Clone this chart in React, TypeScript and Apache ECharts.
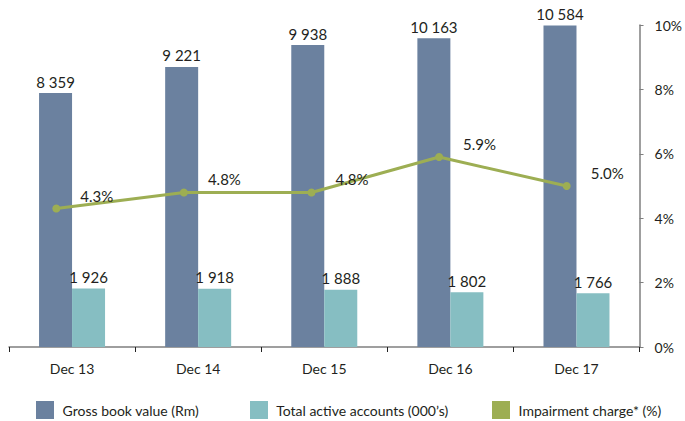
import React, { useEffect, useRef } from "react";
import * as echarts from "echarts";

const categories = ["Dec 13", "Dec 14", "Dec 15", "Dec 16", "Dec 17"];
const grossBookValue = [8359, 9221, 9938, 10163, 10584];
const activeAccounts = [1926, 1918, 1888, 1802, 1766];
const impairmentCharge = [4.3, 4.8, 4.8, 5.9, 5.0];
const percentTicks = { min: 0, max: 10, interval: 2 };

const seriesNames = [
  "Gross book value (Rm)",
  "Total active accounts (000\u2019s)",
  "Impairment charge* (%)",
];

const COLORS = { gross: "#6b819f", accounts: "#86bec2", impairment: "#9dae53" };
const FONT = "Lato";
const TEXT = "#231f20";
const PAD = 24;

const fmtThousands = (v: number) =>
  String(v).replace(/\B(?=(\d{3})+(?!\d))/g, " ");

export default function App() {
  const ref = useRef<HTMLDivElement>(null);

  useEffect(() => {
    if (!ref.current) return;
    const chart = echarts.init(ref.current, null, { renderer: "svg" });
    const barWidth = 33;
    const shift = barWidth / 2;
    const gridLeft = 9 + PAD;
    const gridRight = 38;
    const legendBase = {
      top: 401,
      padding: 0,
      itemWidth: 18,
      itemHeight: 18,
      icon: "rect",
      orient: "horizontal" as const,
      formatter: (name: string) => " " + name,
      textStyle: {
        fontFamily: FONT,
        fontSize: 14,
        color: TEXT,
      },
    };
    chart.setOption({
      animation: false,
      textStyle: { fontFamily: FONT },
      grid: [
        { left: gridLeft, right: gridRight, top: 25, bottom: 74 },
        { left: gridLeft - shift, right: gridRight + shift, top: 25, bottom: 74 },
      ],
      legend: [
        { ...legendBase, left: 36 + PAD, data: [seriesNames[0]] },
        { ...legendBase, left: 250 + PAD, data: [seriesNames[1]] },
        { ...legendBase, left: 492 + PAD, data: [seriesNames[2]] },
      ],
      xAxis: [
        {
          type: "category",
          gridIndex: 0,
          data: categories,
          axisLine: { lineStyle: { color: "#7f7f7f", width: 1.5 } },
          axisTick: { show: true, length: 5, lineStyle: { color: "#222", width: 1 } },
          axisLabel: { fontFamily: FONT, fontSize: 14, color: TEXT, margin: 14 },
        },
        { type: "category", gridIndex: 1, data: categories, show: false },
      ],
      yAxis: [
        { type: "value", gridIndex: 0, min: 0, max: 10600, show: false, splitLine: { show: false } },
        {
          type: "value",
          gridIndex: 0,
          position: "right",
          min: percentTicks.min,
          max: percentTicks.max,
          interval: percentTicks.interval,
          axisLine: { show: true, lineStyle: { color: "#7f7f7f", width: 1.5 } },
          axisTick: { show: true, length: 4, lineStyle: { color: "#7f7f7f" } },
          splitLine: { show: false },
          axisLabel: {
            fontFamily: FONT,
            fontSize: 14,
            color: TEXT,
            margin: 15,
            formatter: "{value}%",
          },
        },
        {
          type: "value",
          gridIndex: 1,
          min: percentTicks.min,
          max: percentTicks.max,
          show: false,
          splitLine: { show: false },
        },
      ],
      series: [
        {
          name: seriesNames[0],
          type: "bar",
          xAxisIndex: 0,
          yAxisIndex: 0,
          data: grossBookValue,
          barWidth,
          barGap: "0%",
          itemStyle: { color: COLORS.gross },
          label: {
            show: true,
            position: "top",
            distance: 4,
            fontFamily: FONT,
            fontSize: 15,
            color: TEXT,
            formatter: (p: any) => fmtThousands(p.value),
          },
        },
        {
          name: seriesNames[1],
          type: "bar",
          xAxisIndex: 0,
          yAxisIndex: 0,
          data: activeAccounts,
          barWidth,
          barGap: "0%",
          itemStyle: { color: COLORS.accounts },
          label: {
            show: true,
            position: "top",
            distance: 4,
            fontFamily: FONT,
            fontSize: 15,
            color: TEXT,
            formatter: (p: any) => fmtThousands(p.value),
          },
        },
        {
          name: seriesNames[2],
          type: "line",
          xAxisIndex: 1,
          yAxisIndex: 2,
          data: impairmentCharge,
          symbol: "circle",
          symbolSize: 8,
          lineStyle: { color: COLORS.impairment, width: 3 },
          itemStyle: { color: COLORS.impairment },
          z: 5,
          label: {
            show: true,
            position: "right",
            distance: 0,
            offset: [20, -13],
            fontFamily: FONT,
            fontSize: 15,
            color: TEXT,
            formatter: (p: any) => Number(p.value).toFixed(1) + "%",
          },
        },
      ],
    });
    return () => chart.dispose();
  }, []);

  return (
    <div
      ref={ref}
      style={{
        position: "fixed",
        left: -PAD,
        top: 0,
        width: 685 + PAD,
        height: 421,
        background: "#fff",
      }}
    />
  );
}
